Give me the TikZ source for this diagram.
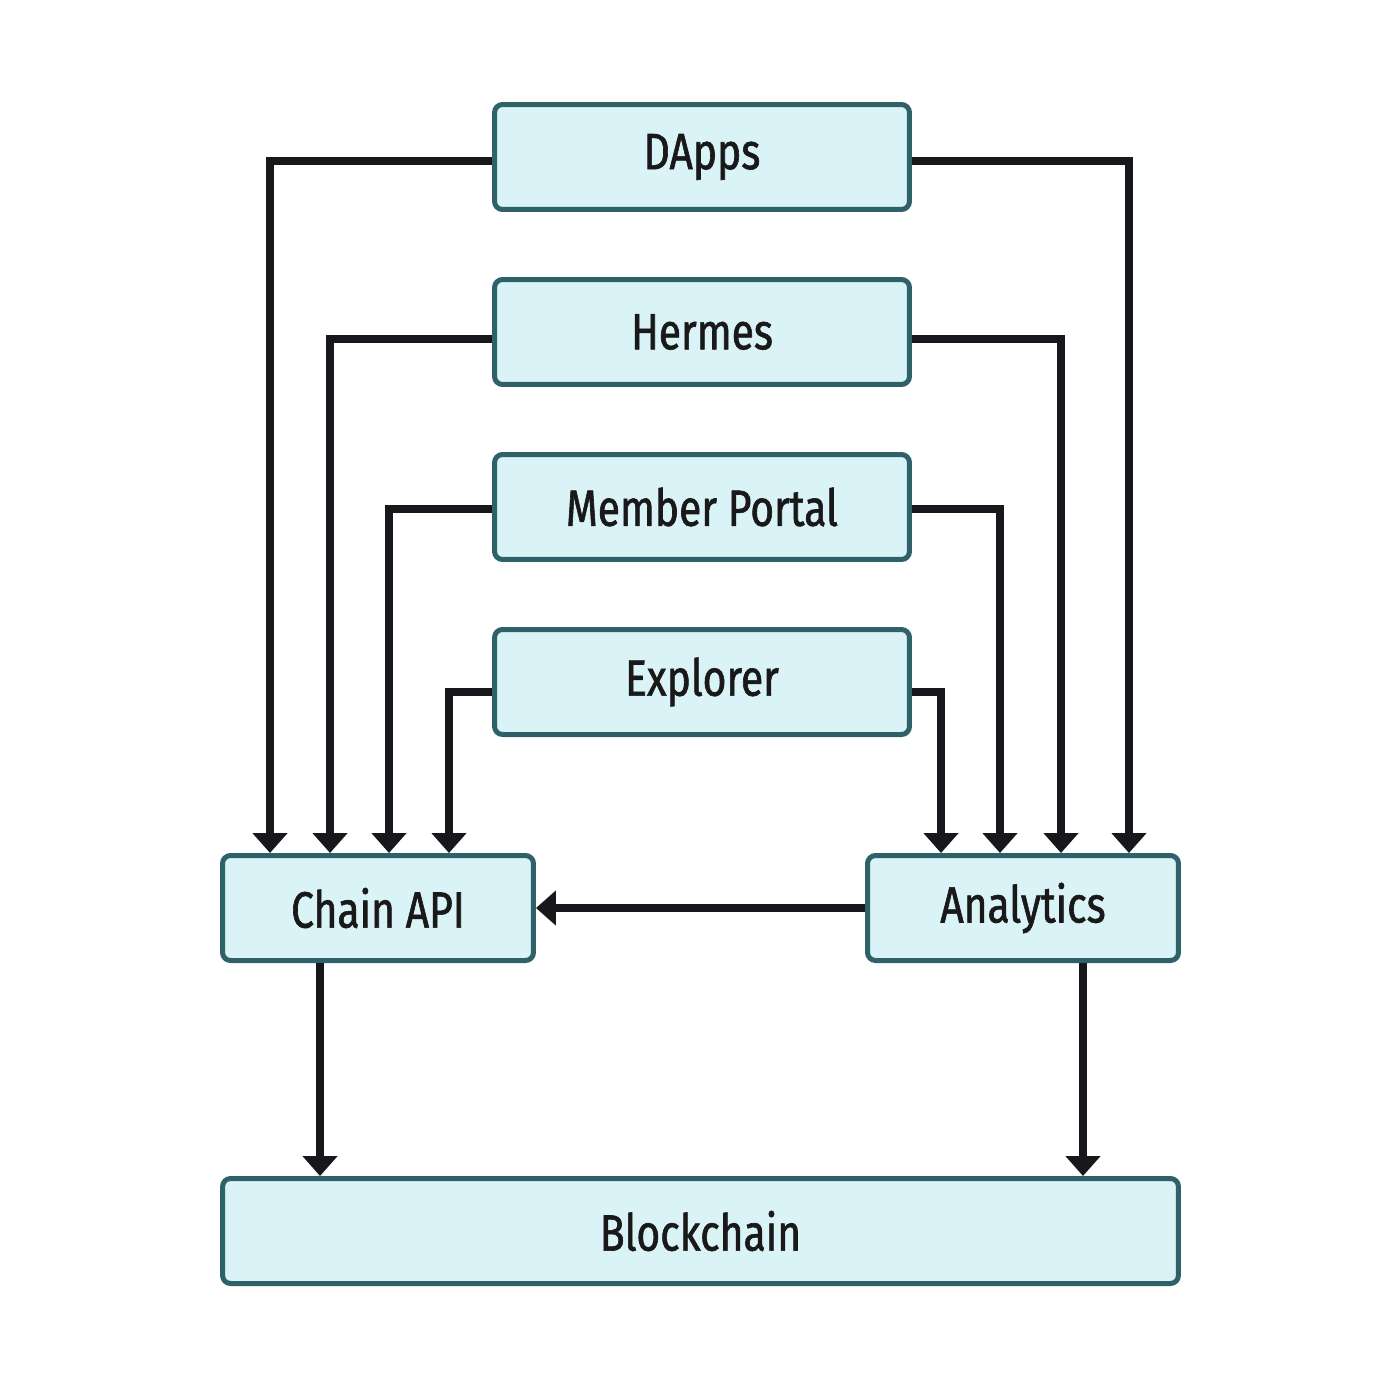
\documentclass[tikz,border=0pt]{standalone}
\usepackage{fontspec}
\setmainfont{Fira Sans}[FakeStretch=0.8, FakeBold=1.2]
\usetikzlibrary{arrows.meta}

\definecolor{boxfill}{HTML}{D9F3F6}
\definecolor{boxline}{HTML}{2F6168}
\definecolor{wire}{HTML}{18181C}

\tikzset{
	box/.style={draw=boxline, fill=boxfill, line width=0.1cm, rounded corners=0.16cm,
		minimum height=2.1cm, inner sep=0pt, text=black!90,
		font=\fontsize{29}{35}\selectfont},
	topbox/.style={box, minimum width=8.3cm},
	midbox/.style={box, minimum width=6.22cm},
	flow/.style={draw=wire, line width=0.17cm, line join=miter,
		-{Triangle[width=0.68cm,length=0.4cm]}}
}

\begin{document}
\begin{tikzpicture}[x=0.02cm, y=-0.02cm]
	\useasboundingbox (0,0) rectangle (1400,1400);
	% Nodes
	% Clients
	\node[topbox] (dapps) at (702,157) {DApps};
	\node[topbox] (hermes) at (702,332) {Hermes};
	\node[topbox] (portal) at (702,507) {Member Portal};
	\node[topbox] (explorer) at (702,682) {Explorer};
	% Services
	\node[midbox] (chain) at (378,908) {Chain API};
	\node[midbox] (analytics) at (1023,908) {Analytics};
	% Ledger
	\node[box, minimum width=19.12cm] (blockchain) at (700.5,1231) {Blockchain};

	% Edges
	% Clients to Chain API
	\draw[flow] ([yshift=-0.08cm]dapps.west) -| ([xshift=1cm]chain.north west);
	\draw[flow] ([yshift=-0.14cm]hermes.west) -| ([xshift=2.2cm]chain.north west);
	\draw[flow] ([yshift=-0.04cm]portal.west) -| ([xshift=3.38cm]chain.north west);
	\draw[flow] ([yshift=-0.2cm]explorer.west) -| ([xshift=4.58cm]chain.north west);
	% Clients to Analytics
	\draw[flow] ([yshift=-0.08cm]dapps.east) -| ([xshift=5.28cm]analytics.north west);
	\draw[flow] ([yshift=-0.14cm]hermes.east) -| ([xshift=3.92cm]analytics.north west);
	\draw[flow] ([yshift=-0.04cm]portal.east) -| ([xshift=2.7cm]analytics.north west);
	\draw[flow] ([yshift=-0.2cm]explorer.east) -| ([xshift=1.52cm]analytics.north west);
	% Analytics to Chain API
	\draw[flow] (analytics.west) -- (chain.east);
	% Services to Blockchain
	\draw[flow] ([xshift=2cm]chain.south west) -- ([xshift=2cm]chain.south west |- blockchain.north);
	\draw[flow] ([xshift=4.36cm]analytics.south west) -- ([xshift=4.36cm]analytics.south west |- blockchain.north);
\end{tikzpicture}
\end{document}
